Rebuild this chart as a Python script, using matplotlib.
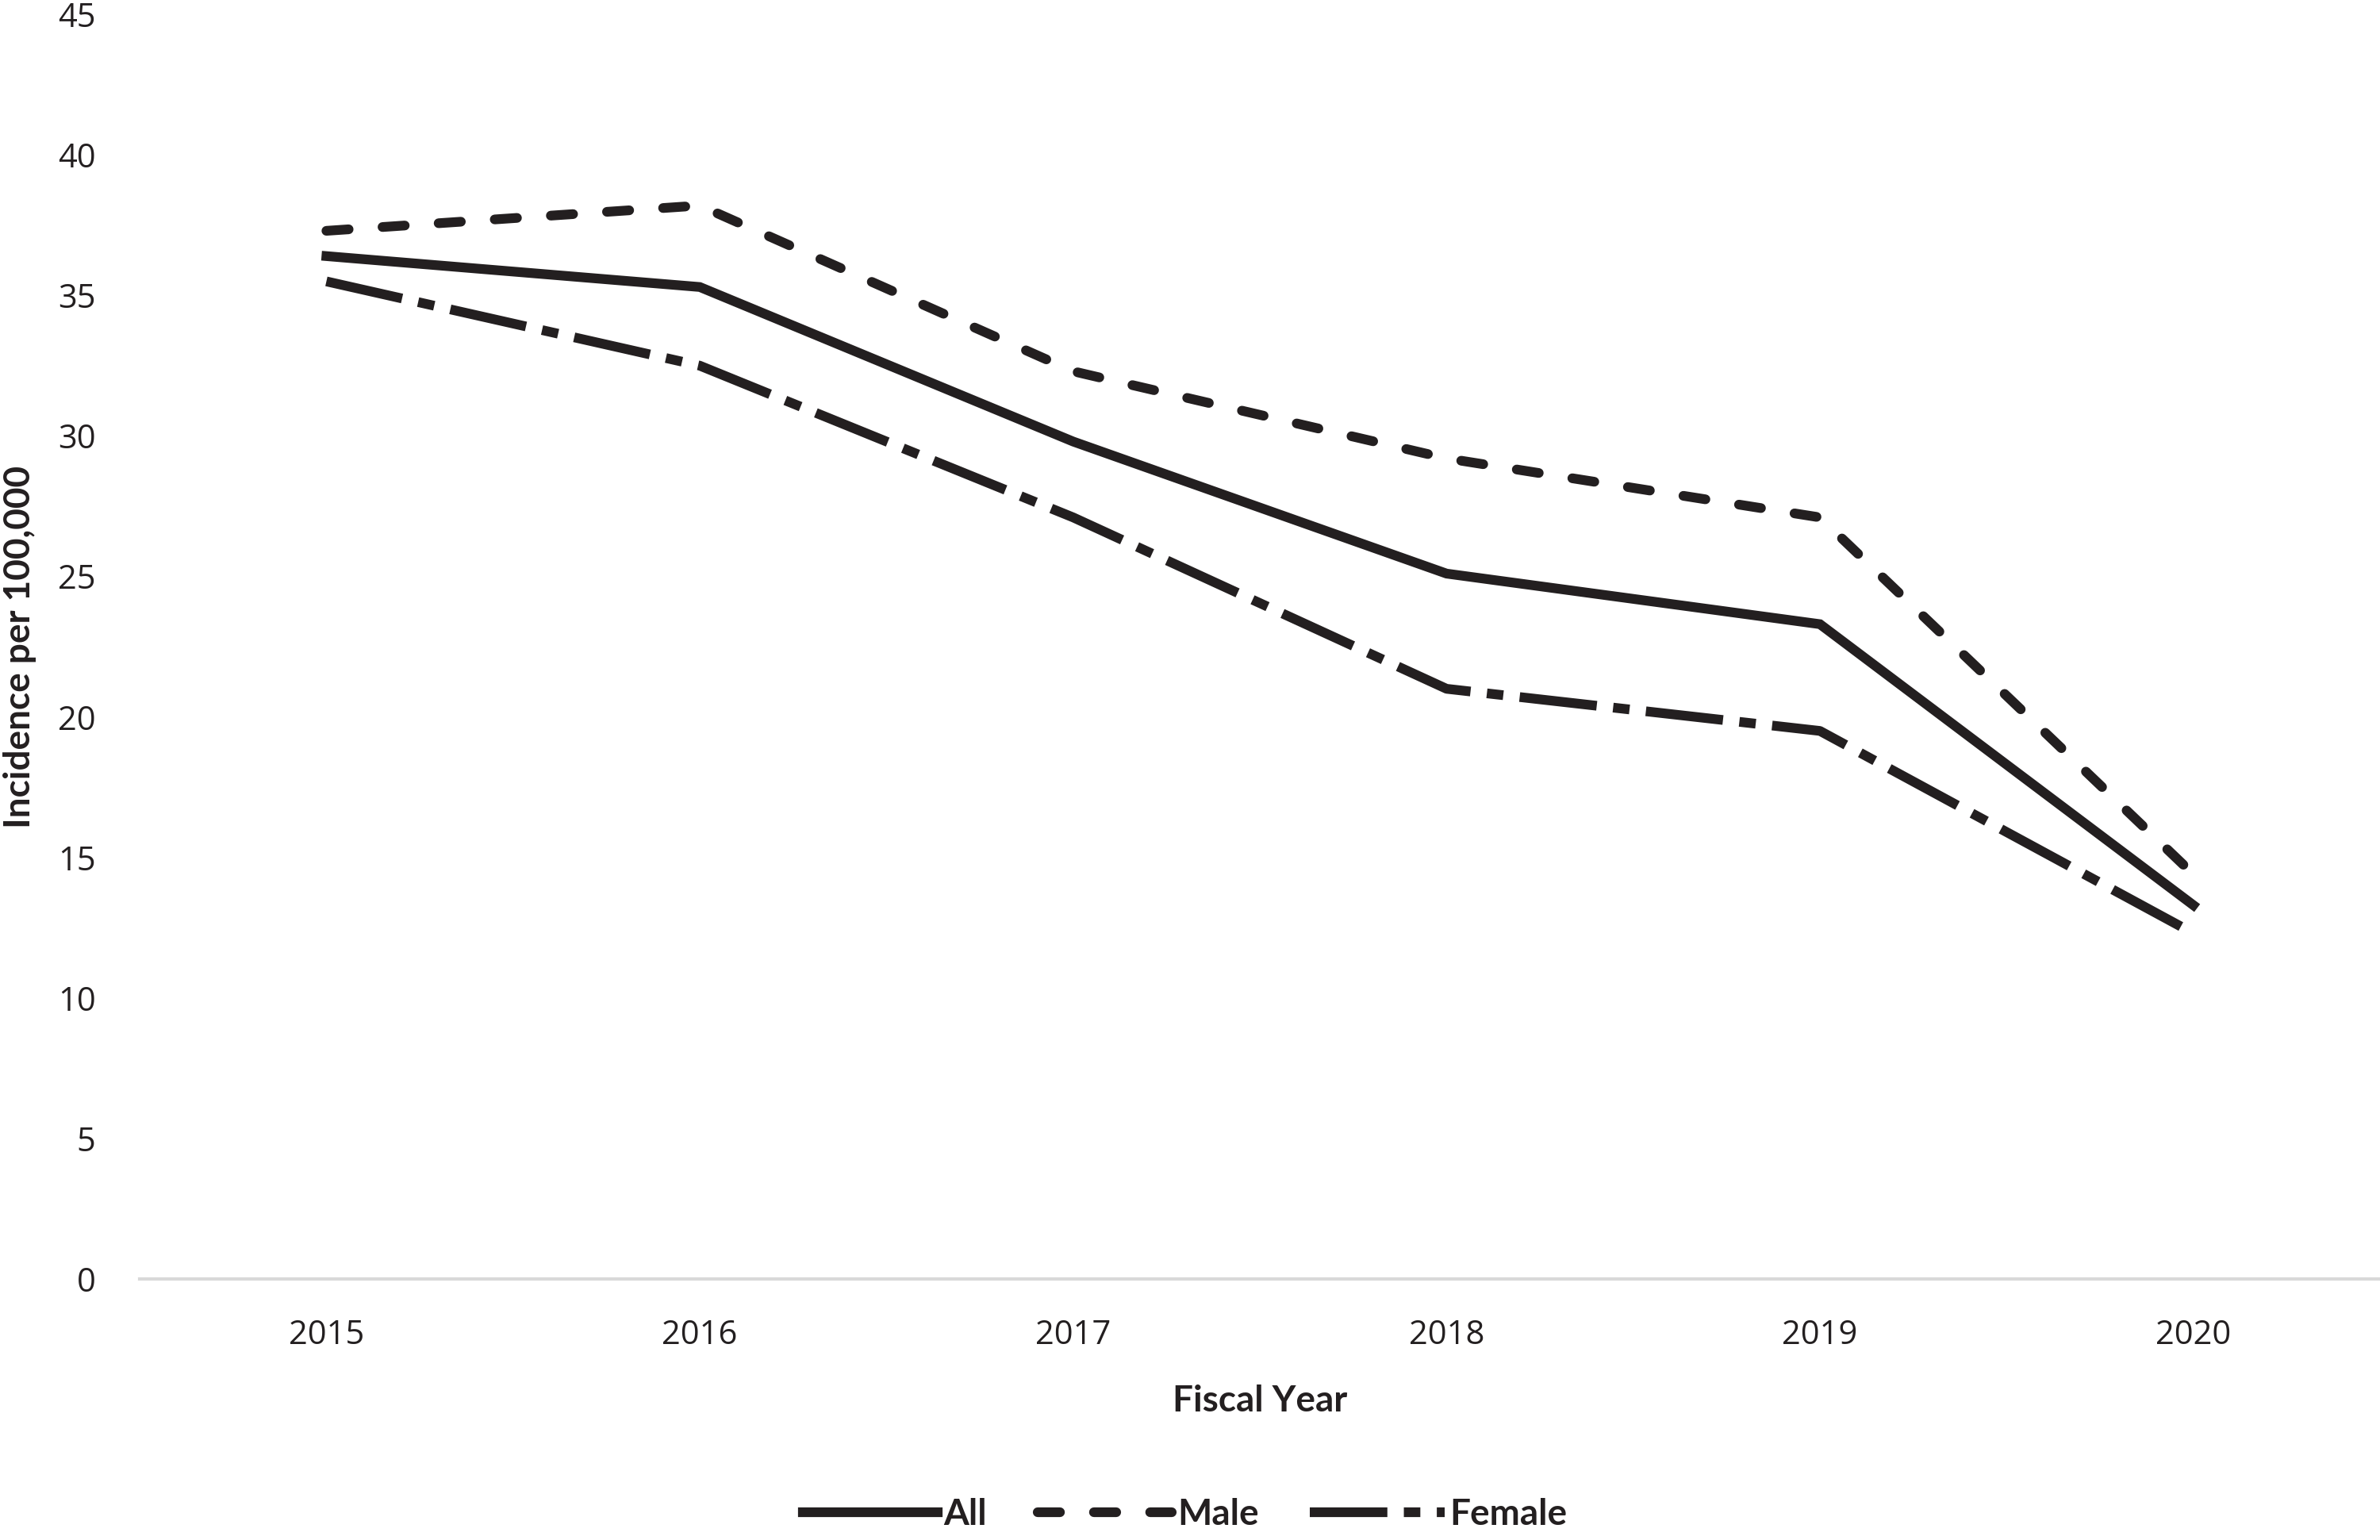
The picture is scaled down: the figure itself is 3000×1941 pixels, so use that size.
import matplotlib
matplotlib.use("Agg")
from matplotlib import pyplot as plt
from matplotlib import font_manager

years = ["2015", "2016", "2017", "2018", "2019", "2020"]
all_rate = [36.4, 35.3, 29.8, 25.1, 23.3, 13.3]
male_rate = [37.3, 38.2, 32.3, 29.2, 27.1, 14.4]
female_rate = [35.5, 32.5, 27.1, 21.0, 19.5, 12.3]

INK = "#231f20"


def pick_font(names):
    available = {f.name for f in font_manager.fontManager.ttflist}
    for name in names:
        if name in available:
            return name
    return "DejaVu Sans"


tick_font = pick_font(["Open Sans", "Liberation Sans", "DejaVu Sans"])
label_font = pick_font(["Liberation Sans Narrow", "Lato", "Open Sans"])

fig = plt.figure(figsize=(15, 9.705), dpi=200)
ax = fig.add_axes([0.0587, 0.1696, 0.9413, 0.821])

x = list(range(len(years)))
lw = 4.4
ax.plot(x, all_rate, color=INK, linewidth=lw, solid_joinstyle="miter", label="All")
ax.plot(x, male_rate, color=INK, linewidth=lw, linestyle=(0, (2.3, 3.5)),
        dash_capstyle="round", label="Male")
ax.plot(x, female_rate, color=INK, linewidth=lw, linestyle=(0, (8, 1.7, 1.7, 1.7)),
        dash_capstyle="butt", label="Female")

ax.set_xlim(-0.5, len(years) - 0.5)
ax.set_ylim(0, 45)
ax.set_yticks(range(0, 46, 5))
ax.set_xticks(x)
ax.set_xticklabels(years)
ax.tick_params(axis="both", length=0, labelsize=15, colors=INK)
ax.tick_params(axis="y", pad=20)
ax.tick_params(axis="x", pad=18)
for lab in ax.get_xticklabels() + ax.get_yticklabels():
    lab.set_fontfamily(tick_font)

for side in ["top", "right", "left"]:
    ax.spines[side].set_visible(False)
ax.spines["bottom"].set_color("#d9d9d9")
ax.spines["bottom"].set_linewidth(1.5)

ax.set_xlabel("Fiscal Year", fontsize=16.5, fontweight="bold", color=INK,
              family=label_font, labelpad=15)
ax.set_ylabel("Incidence per 100,000", fontsize=16.5, fontweight="bold", color=INK,
              family=label_font, labelpad=14)
ax.yaxis.set_label_coords(-0.046, 0.5)

handles, labels = ax.get_legend_handles_labels()
leg = fig.legend(handles, labels, loc="lower center", bbox_to_anchor=(0.498, 0.0),
                 ncol=3, frameon=False, handlelength=3.7, handletextpad=0.15,
                 columnspacing=1.4, borderaxespad=0.15, borderpad=0.1,
                 prop={"family": label_font, "weight": "bold", "size": 16.5})
for t in leg.get_texts():
    t.set_color(INK)

fig.savefig("out.png", dpi=200)
plt.close(fig)
